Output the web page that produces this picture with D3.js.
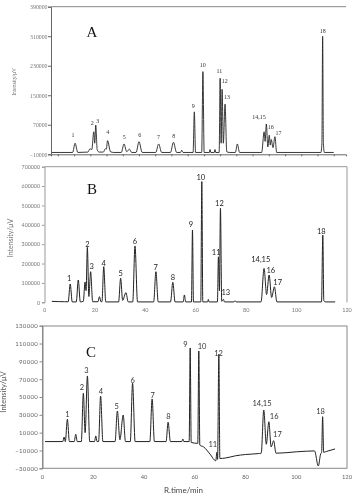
<!DOCTYPE html>
<html><head><meta charset="utf-8">
<script src="https://cdn.jsdelivr.net/npm/d3@7/dist/d3.min.js"></script>
<style>body{margin:0;background:#fff}svg{display:block;will-change:transform;-webkit-font-smoothing:antialiased}</style>
</head><body>
<script>
// ---------- DATA (time in min, intensity in µV) ----------
const traceA = [[0.4,-5000],[8.8,-5000],[9.8,20000],[10.9,-5000],[15.0,-4000],[15.9,5000],[16.6,3000],[17.4,51000],[17.8,20000],[18.2,69000],[18.8,2000],[19.6,-4000],[21.3,-4000],[22.1,5000],[22.5,4000],[23.0,27000],[24.2,-3000],[25.5,-5000],[28.6,-5000],[29.7,18000],[30.8,-3000],[31.9,4000],[32.8,-5000],[34.6,-5000],[35.8,24000],[37.1,-5000],[42.6,-5000],[43.8,18000],[45.0,-5000],[48.6,-5000],[49.8,22500],[51.1,-5000],[52.7,-5000],[53.2,1000],[53.7,-5000],[57.8,-5000],[58.3,105000],[58.8,-5000],[61.3,-5000],[61.8,214000],[62.3,-5000],[64.4,-5000],[64.7,3000],[65.0,-5000],[66.4,-5000],[66.7,3000],[67.0,-5000],[68.4,-5000],[68.8,196000],[69.2,20000],[69.6,166000],[70.1,20000],[70.8,126000],[71.5,-3000],[72.5,-5000],[75.0,-5000],[75.8,18000],[76.7,-5000],[85.7,-5000],[86.7,51000],[87.1,25000],[87.6,72000],[88.2,10000],[88.8,42000],[89.2,15000],[89.6,30000],[90.3,8000],[91.1,37700],[91.8,-5000],[109.8,-5000],[110.2,20000],[110.5,310000],[110.8,20000],[111.2,-5000],[115.0,-5000]];
const traceB = [[2.9,5000],[8.0,3000],[9.4,3000],[10.2,94500],[11.0,2000],[12.6,2000],[13.4,115000],[14.2,2000],[15.4,5000],[16.1,105000],[16.5,60000],[17.0,284000],[17.6,30000],[18.3,158000],[19.1,3000],[21.2,3000],[21.8,29000],[22.4,3000],[22.8,3000],[23.5,184000],[24.3,2000],[29.4,2000],[30.2,124000],[31.0,10000],[32.3,50000],[33.2,2000],[35.0,2000],[35.9,291000],[36.9,2000],[43.3,2000],[44.2,158000],[45.1,2000],[50.0,2000],[50.9,103000],[51.8,2000],[55.0,2000],[55.5,38000],[56.0,2000],[58.3,2000],[58.7,373000],[59.1,2000],[62.0,2000],[62.4,623000],[62.8,2000],[64.7,2000],[65.0,15000],[65.3,2000],[68.6,2000],[69.0,235000],[69.4,60000],[69.8,485000],[70.3,5000],[71.0,15000],[71.4,2000],[75.2,2000],[75.6,8000],[76.0,2000],[85.9,2000],[87.1,175000],[88.1,40000],[89.1,141000],[90.1,25000],[91.2,80000],[92.2,2000],[109.9,2000],[110.4,347000],[110.8,10000],[111.3,2000],[115.3,2000]];
const traceC = [[1.0,0],[8.0,0],[8.5,5000],[9.0,0],[9.8,25000],[10.6,0],[12.5,0],[13.1,8200],[13.7,0],[15.3,0],[16.1,54200],[16.8,10000],[17.7,73600],[18.6,0],[20.5,0],[21.0,6300],[21.5,0],[22.1,0],[22.9,51100],[23.8,0],[28.6,0],[29.5,34300],[30.5,2000],[31.8,29800],[32.7,0],[34.6,0],[35.5,65400],[36.5,0],[42.3,0],[43.2,47800],[44.1,0],[48.7,0],[49.5,21600],[50.4,0],[54.9,0],[55.3,2900],[55.7,0],[57.8,0],[58.2,105000],[58.6,-1000],[61.2,-2000],[61.6,101600],[62.0,-4000],[63.5,-6000],[66.0,-14000],[68.3,-21500],[68.7,-12000],[69.0,-20000],[69.5,98000],[69.9,-19000],[72.0,-18500],[76.0,-16000],[80.0,-14500],[85.0,-13500],[86.2,-13000],[87.2,35400],[88.2,-3000],[89.2,22300],[90.1,-6000],[91.1,1000],[92.0,-13000],[96.0,-12500],[100.0,-11500],[104.0,-10800],[107.2,-10500],[108.7,-27400],[109.6,-14000],[110.0,-12000],[110.4,27900],[110.8,-12000],[112.0,-11000],[115.3,-8300]];

const yTicksA = [-10000,70000,150000,230000,310000,390000];
const yTicksB = [0,100000,200000,300000,400000,500000,600000,700000];
const yTicksC = [-30000,-10000,10000,30000,50000,70000,90000,110000,130000];
const xTicks = [0,20,40,60,80,100,120];

const labelsA = [["1",8.95,42300],["2",16.8,74000],["3",19.0,81000],["4",23.1,49600],["5",29.8,37700],["6",36.1,42300],["7",43.7,36100],["8",49.9,39600],["9",57.9,120900],["10",61.7,232000],["11",68.5,215700],["12",70.7,188600],["13",71.6,144500],["14,15",84.6,91900],["16",89.4,64800],["17",92.5,46900],["18",110.5,324100]];
const labelsB = [["1",9.8,124000],["2",17.0,301000],["3",18.7,183800],["4",23.5,201300],["5",30.2,149700],["6",35.9,316500],["7",44.1,178600],["8",50.9,129100],["9",58.1,402700],["10",62.0,645300],["11",68.1,256100],["12",69.4,511100],["13",71.9,49600],["14,15",85.8,223500],["16",89.8,166800],["17",92.5,104800],["18",109.8,368100]];
const labelsC = [["1",9.8,30900],["2",15.5,60500],["3",17.3,80300],["4",23.0,56800],["5",29.2,39900],["6",35.5,69100],["7",43.4,52300],["8",49.6,27900],["9",56.3,109200],["10",62.9,107300],["11",67.1,-3100],["12",69.4,99100],["14,15",86.5,42950],["16",91.3,27900],["17",92.6,8500],["18",109.6,34300]];

// ---------- DRAW ----------
const svg = d3.select("body").append("svg").attr("width",359).attr("height",498);
svg.append("rect").attr("width",359).attr("height",498).attr("fill","#fff");

const sans = "Lato, 'Liberation Sans', sans-serif";
const serif = "'Liberation Serif', 'DejaVu Serif', serif";

function line(x,y){ return d3.line().x(d=>x(d[0])).y(d=>y(d[1])).curve(d3.curveMonotoneX); }
function seg(x1,y1,x2,y2,c,w){ svg.append("line").attr("x1",x1).attr("y1",y1).attr("x2",x2).attr("y2",y2).attr("stroke",c).attr("stroke-width",w||1); }

// Panel A
{
  const x = d3.scaleLinear([0,120],[51,346]);
  const y = d3.scaleLinear([-10000,390000],[154.3,6.7]);
  const g = svg.append("g");
  seg(51,6.7,346,6.7,"#888",1);
  g.append("g").attr("transform","translate(0,154.3)")
    .call(d3.axisBottom(x).tickValues(d3.range(2.8,116,6.6)).tickSize(2).tickFormat(""))
    .call(a=>{a.selectAll("path,line").attr("stroke","#666");});
  g.append("g").attr("transform","translate(51,0)")
    .call(d3.axisLeft(y).tickValues(yTicksA).tickSize(3).tickFormat(d3.format("d")))
    .call(a=>{a.selectAll("path,line").attr("stroke","#666");
      a.selectAll("text").attr("font-family",serif).attr("font-size",5.8).attr("fill","#777").attr("x",-3.5);});
  g.append("path").datum(traceA).attr("d",line(x,y)).attr("fill","none").attr("stroke","#222").attr("stroke-width",0.9);
  g.selectAll(".la").data(labelsA).join("text").attr("x",d=>x(d[1])).attr("y",d=>y(d[2])).attr("dy","0.35em")
    .attr("text-anchor","middle").attr("font-family",serif).attr("font-size",6).attr("fill","#333").text(d=>d[0]);
  svg.append("text").attr("transform","translate(16,82) rotate(-90)").attr("text-anchor","middle")
    .attr("font-family",serif).attr("font-size",5.5).attr("fill","#666").text("Intensity/μV");
  svg.append("text").attr("x",92).attr("y",37).attr("text-anchor","middle").attr("font-family",serif)
    .attr("font-size",15).attr("fill","#111").text("A");
}

// Panel B
{
  const x = d3.scaleLinear([0,120],[44.5,347]);
  const y = d3.scaleLinear([0,700000],[302.3,166.7]);
  const g = svg.append("g");
  seg(44.5,166.7,347,166.7,"#999",1);
  seg(347,166.7,347,302.3,"#999",1);
  g.append("g").attr("transform","translate(44.5,0)")
    .call(d3.axisLeft(y).tickValues(yTicksB).tickSize(2.5).tickFormat(d3.format("d")))
    .call(a=>{a.selectAll("path,line").attr("stroke","#999");
      a.selectAll("text").attr("font-family",sans).attr("font-size",5.3).attr("fill","#777").attr("x",-4.5);});
  g.selectAll(".xb").data(xTicks).join("text").attr("x",d=>x(d)).attr("y",310).attr("dy","0.35em")
    .attr("text-anchor","middle").attr("font-family",sans).attr("font-size",5.5).attr("fill","#777").text(d=>d);
  g.append("path").datum(traceB).attr("d",line(x,y)).attr("fill","none").attr("stroke","#222").attr("stroke-width",1);
  g.selectAll(".lb").data(labelsB).join("text").attr("x",d=>x(d[1])).attr("y",d=>y(d[2])).attr("dy","0.35em")
    .attr("text-anchor","middle").attr("font-family",sans).attr("font-size",7.5).attr("fill","#222").text(d=>d[0]);
  svg.append("text").attr("transform","translate(13,238) rotate(-90)").attr("text-anchor","middle")
    .attr("font-family",sans).attr("font-size",7).attr("fill","#777").text("Intensity/μV");
  svg.append("text").attr("x",92).attr("y",193.5).attr("text-anchor","middle").attr("font-family",serif)
    .attr("font-size",15).attr("fill","#111").text("B");
}

// Panel C
{
  const x = d3.scaleLinear([0,120],[42.5,347]);
  const y = d3.scaleLinear([-30000,130000],[468.3,325.7]);
  const g = svg.append("g");
  g.append("rect").attr("x",42.5).attr("y",326).attr("width",304.5).attr("height",142.3)
    .attr("fill","none").attr("stroke","#888").attr("stroke-width",1);
  g.append("g").attr("transform","translate(42.5,0)")
    .call(d3.axisLeft(y).tickValues(yTicksC).tickSize(3).tickFormat(d3.format("d")))
    .call(a=>{a.selectAll("path,line").attr("stroke","#888");
      a.selectAll("text").attr("font-family",sans).attr("font-size",6).attr("letter-spacing",0.3).attr("fill","#666").attr("x",-4.5);});
  g.selectAll(".xc").data(xTicks).join("text").attr("x",d=>x(d)).attr("y",477).attr("dy","0.35em")
    .attr("text-anchor","middle").attr("font-family",sans).attr("font-size",5.8).attr("fill","#666").text(d=>d);
  g.append("path").datum(traceC).attr("d",line(x,y)).attr("fill","none").attr("stroke","#222").attr("stroke-width",1);
  g.selectAll(".lc").data(labelsC).join("text").attr("x",d=>x(d[1])).attr("y",d=>y(d[2])).attr("dy","0.35em")
    .attr("text-anchor","middle").attr("font-family",sans).attr("font-size",7.5).attr("fill","#333").text(d=>d[0]);
  svg.append("text").attr("transform","translate(6,392) rotate(-90)").attr("text-anchor","middle")
    .attr("font-family",sans).attr("font-size",7.5).attr("fill","#555").text("Intensity/μV");
  svg.append("text").attr("x",183.5).attr("y",490).attr("dy","0.35em").attr("text-anchor","middle")
    .attr("font-family",sans).attr("font-size",8).attr("fill","#444").text("R.time/min");
  svg.append("text").attr("x",91).attr("y",356.5).attr("text-anchor","middle").attr("font-family",serif)
    .attr("font-size",15).attr("fill","#111").text("C");
}
</script>
</body></html>
